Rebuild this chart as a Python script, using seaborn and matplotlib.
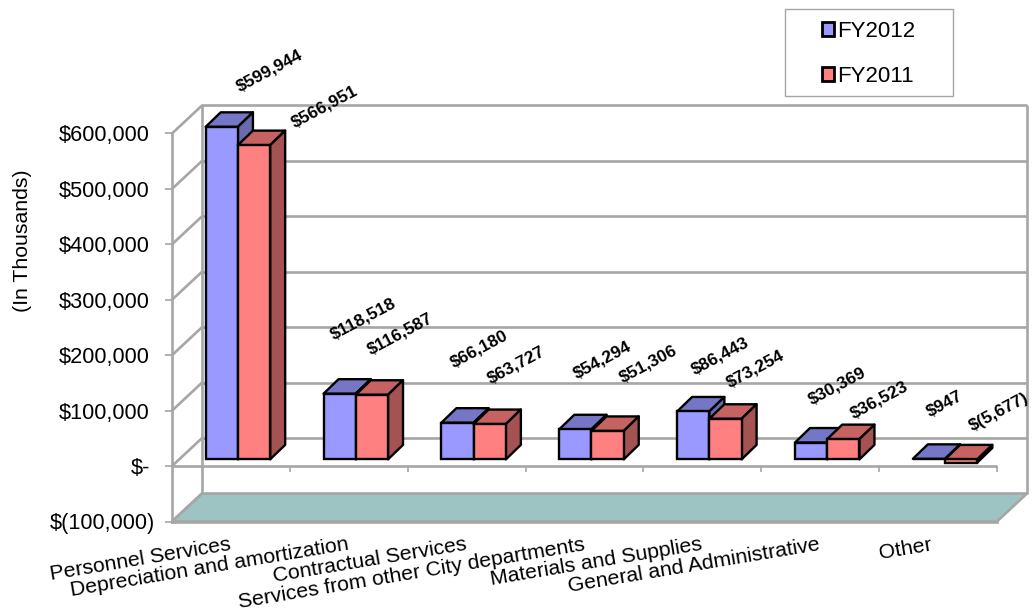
import matplotlib
matplotlib.use("Agg")
import matplotlib.pyplot as plt
import numpy as np
import pandas as pd
import seaborn as sns
from matplotlib.patches import Polygon, Rectangle
from matplotlib.transforms import Affine2D, IdentityTransform

categories = ["Personnel Services", "Depreciation and amortization", "Contractual Services",
              "Services from other City departments", "Materials and Supplies",
              "General and Administrative", "Other"]
fy2012 = [599944, 118518, 66180, 54294, 86443, 30369, 947]
fy2011 = [566951, 116587, 63727, 51306, 73254, 36523, -5677]
y_ticks = [-100000, 0, 100000, 200000, 300000, 400000, 500000, 600000]
y_labels = ["$(100,000)", "$-", "$100,000", "$200,000", "$300,000", "$400,000", "$500,000", "$600,000"]

# pixel offsets of the value labels from the top of each bar (right, down)
offsets_2012 = [(48, -56), (24, -75), (22, -74), (27, -69), (27, -55), (26, -56), (16, -55)]
offsets_2011 = [(71, -38), (28, -61), (26, -59), (41, -67), (30, -50), (36, -39), (38, -47)]

W, H = 1032, 616
sns.set_style("white")
plt.rcParams["font.family"] = ["Liberation Sans", "DejaVu Sans"]
plt.rcParams.update({"text.color": "black", "axes.labelcolor": "black",
                     "xtick.color": "black", "ytick.color": "black"})
fig = plt.figure(figsize=(W / 100, H / 100), dpi=100, facecolor="white")
L, R, T, B = 172, 997, 133.5, 521.5
ax = fig.add_axes([L / W, 1 - B / H, (R - L) / W, (B - T) / H])
ax.patch.set_alpha(0)

df = pd.DataFrame({
    "category": categories * 2,
    "value": fy2012 + fy2011,
    "year": ["FY2012"] * len(categories) + ["FY2011"] * len(categories),
})
FRONT = {"FY2012": "#9999FF", "FY2011": "#FF8080"}
TOPS = ["#7676C6", "#C66262"]
SIDES = ["#6A6AAE", "#A45252"]
sns.barplot(data=df, x="category", y="value", hue="year", hue_order=["FY2012", "FY2011"],
            palette=FRONT, width=0.547, gap=0, saturation=1, edgecolor="black", linewidth=1.7,
            ax=ax, legend=True)
handles, labels = ax.get_legend_handles_labels()
ax.get_legend().remove()
ax.set_xlim(-0.5, 6.5)
ax.set_ylim(-100000, 600000)

GRID = "#A6A6A6"
GLW = 1.9
WALL = (30, 28)      # depth of the box, px
BAR_SHIFT = (7, 6.7)  # bars stand a quarter of the way into the box
BAR_DEPTH = (15, 14.5)
wall_tf = ax.transData + Affine2D().translate(*WALL)
bar_tf = ax.transData + Affine2D().translate(*BAR_SHIFT)
px = IdentityTransform()

# floor
x0, x1 = -0.5, 6.5
p = lambda x, y, o=(0, 0): ax.transData.transform((x, y)) + np.array(o)
ax.add_patch(Polygon([p(x0, -100000), p(x1, -100000), p(x1, -100000, WALL), p(x0, -100000, WALL)],
                     closed=True, transform=px, facecolor="#9DC3C3", edgecolor=GRID, lw=GLW,
                     zorder=0.5, clip_on=False))
# back wall
ax.hlines([t for t in y_ticks if t > -100000], x0, x1, transform=wall_tf, colors=GRID, lw=GLW,
          zorder=0.6, clip_on=False)
ax.vlines([x0, x1], -100000, 600000, transform=wall_tf, colors=GRID, lw=GLW, zorder=0.6, clip_on=False)
# side wall diagonals
for t in y_ticks:
    a, b = p(x0, t), p(x0, t, WALL)
    ax.plot([a[0], b[0]], [a[1], b[1]], transform=px, color=GRID, lw=GLW, zorder=0.6, clip_on=False)
# zero plane front edge + category ticks
ax.hlines(0, x0, x1, colors=GRID, lw=GLW, zorder=0.7, clip_on=False)
ax.vlines(np.arange(0.5, 7), -11000, 0, colors=GRID, lw=1.2, zorder=0.7, clip_on=False)

for s in ["top", "right"]:
    ax.spines[s].set_visible(False)
for s in ["left", "bottom"]:
    ax.spines[s].set_color(GRID)
    ax.spines[s].set_linewidth(GLW)

ax.set_yticks(y_ticks, y_labels)
ax.tick_params(axis="y", length=5, width=1.2, color=GRID, labelsize=15.7, pad=11, left=True, labelcolor="black")
ax.set_xlabel("")
ax.set_ylabel("(In Thousands)", fontsize=15.3)
ax.yaxis.set_label_coords((32 - L) / (R - L), (B - 241) / (B - T))
for lab in ax.get_yticklabels():
    if lab.get_text().startswith("$("):
        lab.set_transform(lab.get_transform() + Affine2D().translate(5, 0))
ax.tick_params(axis="x", length=0, labelsize=15.3, pad=16.5, bottom=False, labelcolor="black")
plt.setp(ax.get_xticklabels(), rotation=9.5, ha="right", va="center", rotation_mode="anchor")
for lab in ax.get_xticklabels():
    if lab.get_text() == "Other":
        lab.set_transform(lab.get_transform() + Affine2D().translate(-6, 0))

# 3-D faces from the bars the library drew
dx, dy = BAR_DEPTH
for h, (cont, offs, vals) in enumerate(zip(ax.containers[:2], [offsets_2012, offsets_2011], [fy2012, fy2011])):
    for bar, off, v in zip(cont, offs, vals):
        bar.set_transform(bar_tf)
        bar.set_clip_on(False)
        bar.set_zorder(3 + 2 * h)
        xa, xb = bar.get_x(), bar.get_x() + bar.get_width()
        ya, yb = sorted((bar.get_y(), bar.get_y() + bar.get_height()))
        A = bar_tf.transform((xa, yb))
        Bb = bar_tf.transform((xb, yb))
        C = bar_tf.transform((xb, ya))
        d = np.array([dx, dy])
        ax.add_patch(Polygon([A, Bb, Bb + d, A + d], closed=True, transform=px, facecolor=TOPS[h],
                             edgecolor="black", lw=1.7, joinstyle="round", zorder=2 + 2 * h, clip_on=False))
        ax.add_patch(Polygon([Bb, C, C + d, Bb + d], closed=True, transform=px, facecolor=SIDES[h],
                             edgecolor="black", lw=1.7, joinstyle="round", zorder=2 + 2 * h, clip_on=False))
        text = f"${v:,}" if v >= 0 else f"$({-v:,})"
        ax.annotate(text, xy=((xa + xb) / 2, yb), xycoords=bar_tf, xytext=(off[0], -off[1]),
                    textcoords="offset pixels", fontsize=12.5, fontweight="bold", color="black", rotation=28,
                    ha="center", va="center", rotation_mode="anchor", annotation_clip=False, zorder=10)

# legend
fig.add_artist(Rectangle((785 / W, 1 - 96 / H), 168 / W, 87 / H, transform=fig.transFigure,
                         facecolor="white", edgecolor="#A6A6A6", lw=1))
leg = fig.legend(handles, labels, loc="center", bbox_to_anchor=(868.5 / W, 1 - 54 / H),
                 frameon=False, fontsize=16, handlelength=0.55, handleheight=0.55,
                 handletextpad=0.15, labelspacing=1.08, borderpad=0)
for hd in leg.legend_handles:
    hd.set_edgecolor("black")
    hd.set_linewidth(2)

fig.savefig("out.png", dpi=100)
